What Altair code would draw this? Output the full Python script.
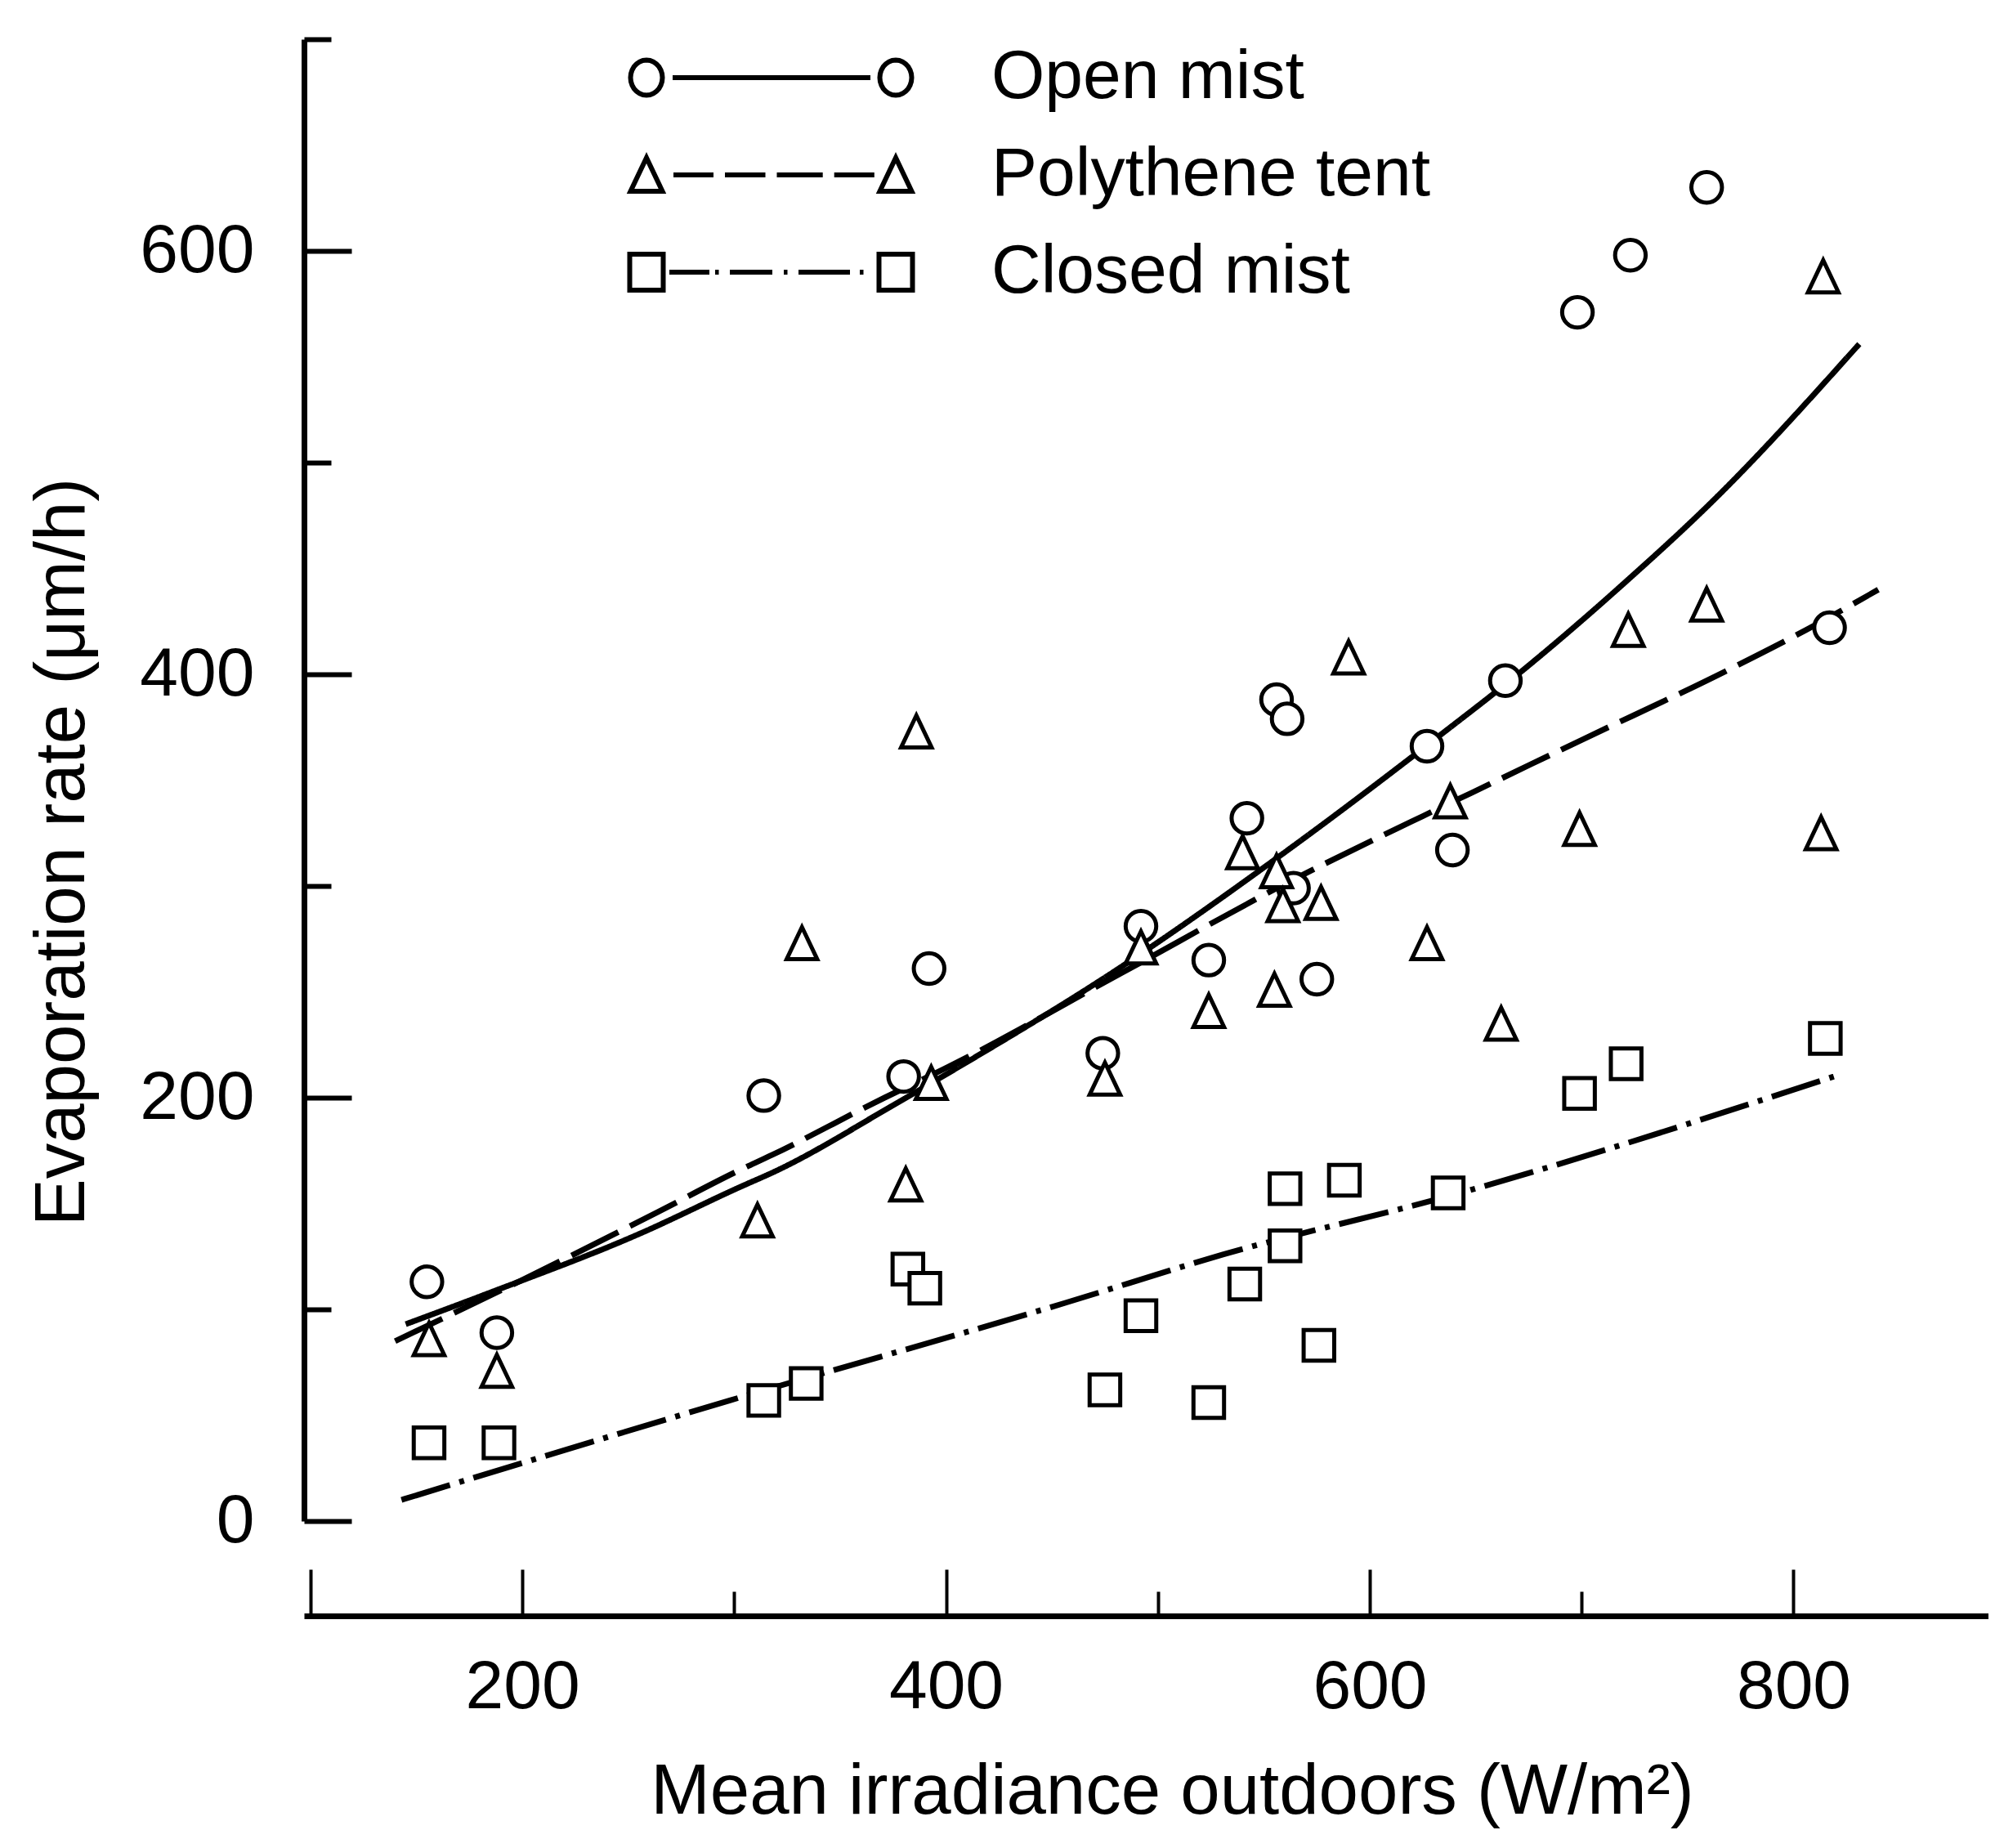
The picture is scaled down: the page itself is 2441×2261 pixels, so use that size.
import math
import altair as alt
import pandas as pd

FONT = "Liberation Sans"

series_names = ["Open mist", "Polythene tent", "Closed mist"]

# ---- observed points ----
open_x = [155, 188, 314, 380, 392, 474, 492, 524, 542, 556, 561, 564, 575, 627, 639, 664, 698, 723, 759, 817]
open_y = [113, 89, 201, 210, 261, 221, 281, 265, 332, 388, 379, 299, 256, 366, 317, 397, 571, 598, 630, 422]

tent_x = [156, 188, 311, 332, 381, 386, 393, 475, 492, 524, 540, 556, 555, 559, 577, 590, 627, 638, 662, 699, 722, 759, 814, 813]
tent_y = [86, 71, 142, 273, 159, 373, 207, 209, 271, 241, 316, 307, 251, 291, 292, 408, 273, 340, 235, 327, 421, 433, 588, 325]

closed_x = [156, 189, 314, 334, 382, 390, 475, 492, 524, 541, 560, 560, 576, 588, 637, 699, 721, 815]
closed_y = [37, 37, 57, 65, 119, 110, 62, 97, 56, 112, 157, 130, 83, 161, 155, 202, 216, 228]

# ---- fitted curves ----
open_fit_x = [145, 185, 256, 301, 321, 376, 400, 483, 560, 629, 676, 720, 761, 831]
open_fit_y = [93, 108, 136, 157, 166, 197, 211, 262, 316, 368, 405, 443, 481, 556]

tent_fit_x = [140, 190, 264, 301, 318, 371, 400, 483, 560, 625, 648, 700, 769, 806, 840]
tent_fit_y = [85, 109, 146, 165, 173, 200, 214, 259, 301, 333, 344, 369, 402, 421, 440]

closed_fit_x = [143, 298, 456, 531, 639, 819]
closed_fit_y = [10, 57, 103, 126, 154, 210]

x_label_values = [200, 400, 600, 800]
x_major_ticks = [100, 200, 400, 600, 800]
x_minor_ticks = [300, 500, 700]
y_label_values = [0, 200, 400, 600]
y_major_ticks = [0, 200, 400, 600]
y_minor_ticks = [100, 300, 500, 700]

# ---- tables ----
pts = pd.DataFrame({
    "x": open_x + tent_x + closed_x,
    "y": open_y + tent_y + closed_y,
    "series": [series_names[0]] * len(open_x) + [series_names[1]] * len(tent_x) + [series_names[2]] * len(closed_x),
})
fits = pd.DataFrame({
    "x": open_fit_x + tent_fit_x + closed_fit_x,
    "y": open_fit_y + tent_fit_y + closed_fit_y,
    "series": [series_names[0]] * len(open_fit_x) + [series_names[1]] * len(tent_fit_x) + [series_names[2]] * len(closed_fit_x),
})

# ---- symbol paths ----
def ellipse(cx, rx, ry, n=28):
    p = []
    for i in range(n):
        a = 2 * math.pi * i / n
        p.append(f"{cx + rx * math.cos(a):.3f},{ry * math.sin(a):.3f}")
    return "M" + "L".join(p) + "Z"

def seg(a, b):
    return f"M{a},0L{b},0"

def tri(cx):
    return f"M{cx},-2.1L{cx - 1.95},2.0L{cx + 1.95},2.0Z"

def sq(cx):
    return f"M{cx - 2.05},-2.2L{cx + 2.05},-2.2L{cx + 2.05},2.2L{cx - 2.05},2.2Z"

R = 30.5
leg_open = ellipse(0, 1.95, 2.15) + seg(3.2, 27.4) + ellipse(R, 1.95, 2.15)
leg_tent = tri(0) + "".join(seg(a, b) for a, b in [(3.3, 8.2), (9.6, 14.55), (15.95, 21.57), (22.97, 27.88)]) + tri(R)
leg_closed = sq(0) + "".join(seg(a, b) for a, b in [(2.8, 7.7), (8.4, 8.85), (10.2, 15.4), (16.8, 17.25), (18.6, 24.9), (26.1, 26.55)]) + sq(R)

tri_chart = "M0,-1.05L-1,1.05L1,1.05Z"

W, H = 2061, 1813
x_scale = alt.Scale(domain=[97, 892], nice=False, zero=False)
y_scale = alt.Scale(domain=[0, 700], nice=False, zero=False)

lab = dict(labelFont=FONT, labelFontSize=84, labelColor="black", titleFont=FONT,
           titleColor="black", titleFontWeight="normal")

axis_x_main = alt.Axis(orient="bottom", offset=116, values=x_label_values, ticks=False, tickSize=0,
                       domain=True, domainWidth=7, domainColor="black", labelPadding=46,
                       labelFlush=False, grid=False, format="d",
                       title="Mean irradiance outdoors (W/m²)", titleFontSize=87, titleX=1062, titleY=241,
                       titleAlign="center", titleBaseline="alphabetic", **lab)
axis_y_main = alt.Axis(orient="left", values=y_label_values, ticks=False, tickSize=0,
                       domain=True, domainWidth=7, domainColor="black", labelPadding=61,
                       labelFlush=False, grid=False, format="d",
                       title="Evaporation rate (μm/h)", titleFontSize=87, titleX=-270, titleY=994, titleAngle=270,
                       titleAlign="center", titleBaseline="alphabetic", **lab)

def tick_axis_x(vals, size):
    return alt.Axis(orient="top", offset=-(H + 116), values=vals, labels=False, domain=False,
                    ticks=True, tickSize=size, tickWidth=4, tickColor="black", grid=False, title=None)

def tick_axis_y(vals, size):
    return alt.Axis(orient="right", offset=-W, values=vals, labels=False, domain=False,
                    ticks=True, tickSize=size, tickWidth=6, tickColor="black", grid=False, title=None)

def fit_layer(name, dash, ax_x, ax_y):
    return alt.Chart(fits).transform_filter(alt.datum.series == name).mark_line(
        color="black", strokeWidth=7, strokeDash=dash, interpolate="monotone"
    ).encode(
        x=alt.X("x:Q", scale=x_scale, axis=ax_x),
        y=alt.Y("y:Q", scale=y_scale, axis=ax_y),
    )

line_open = fit_layer(series_names[0], [1, 0], tick_axis_x(x_major_ticks, 57), tick_axis_y(y_major_ticks, 58))
line_tent = fit_layer(series_names[1], [64, 16], tick_axis_x(x_minor_ticks, 30), tick_axis_y(y_minor_ticks, 33))
line_closed = fit_layer(series_names[2], [62, 12, 6, 12], None, None)

points = alt.Chart(pts).mark_point(
    filled=True, fill="white", stroke="black", strokeWidth=5, size=1400, opacity=1
).encode(
    x=alt.X("x:Q", scale=x_scale, axis=axis_x_main),
    y=alt.Y("y:Q", scale=y_scale, axis=axis_y_main),
    shape=alt.Shape("series:N", scale=alt.Scale(domain=series_names, range=["circle", tri_chart, "square"]), legend=None),
)

legend_layer = alt.Chart(pts).transform_filter(alt.datum.x < -100000).mark_point(
    filled=False, color="black", strokeWidth=6, size=400, opacity=1
).encode(
    shape=alt.Shape("series:N",
                    scale=alt.Scale(domain=series_names, range=[leg_open, leg_tent, leg_closed]),
                    legend=alt.Legend(orient="none", legendX=377, legendY=5, title=None, padding=0,
                                      symbolSize=400, symbolStrokeWidth=6, symbolStrokeColor="black",
                                      symbolFillColor="white", symbolOpacity=1,
                                      labelFont=FONT, labelFontSize=84, labelColor="black",
                                      labelOffset=380, rowPadding=35, labelLimit=2000)),
)

chart = alt.layer(line_open, line_tent, line_closed, points, legend_layer).resolve_scale(
    shape="independent"
).resolve_axis(
    x="independent", y="independent"
).properties(
    width=W, height=H,
    autosize=alt.AutoSizeParams(type="none"),
    padding={"left": 364, "top": 40, "right": 0, "bottom": 392},
    background="white",
).configure_view(stroke=None)

chart.save("out.html", embed_options={"renderer": "svg", "actions": False})
